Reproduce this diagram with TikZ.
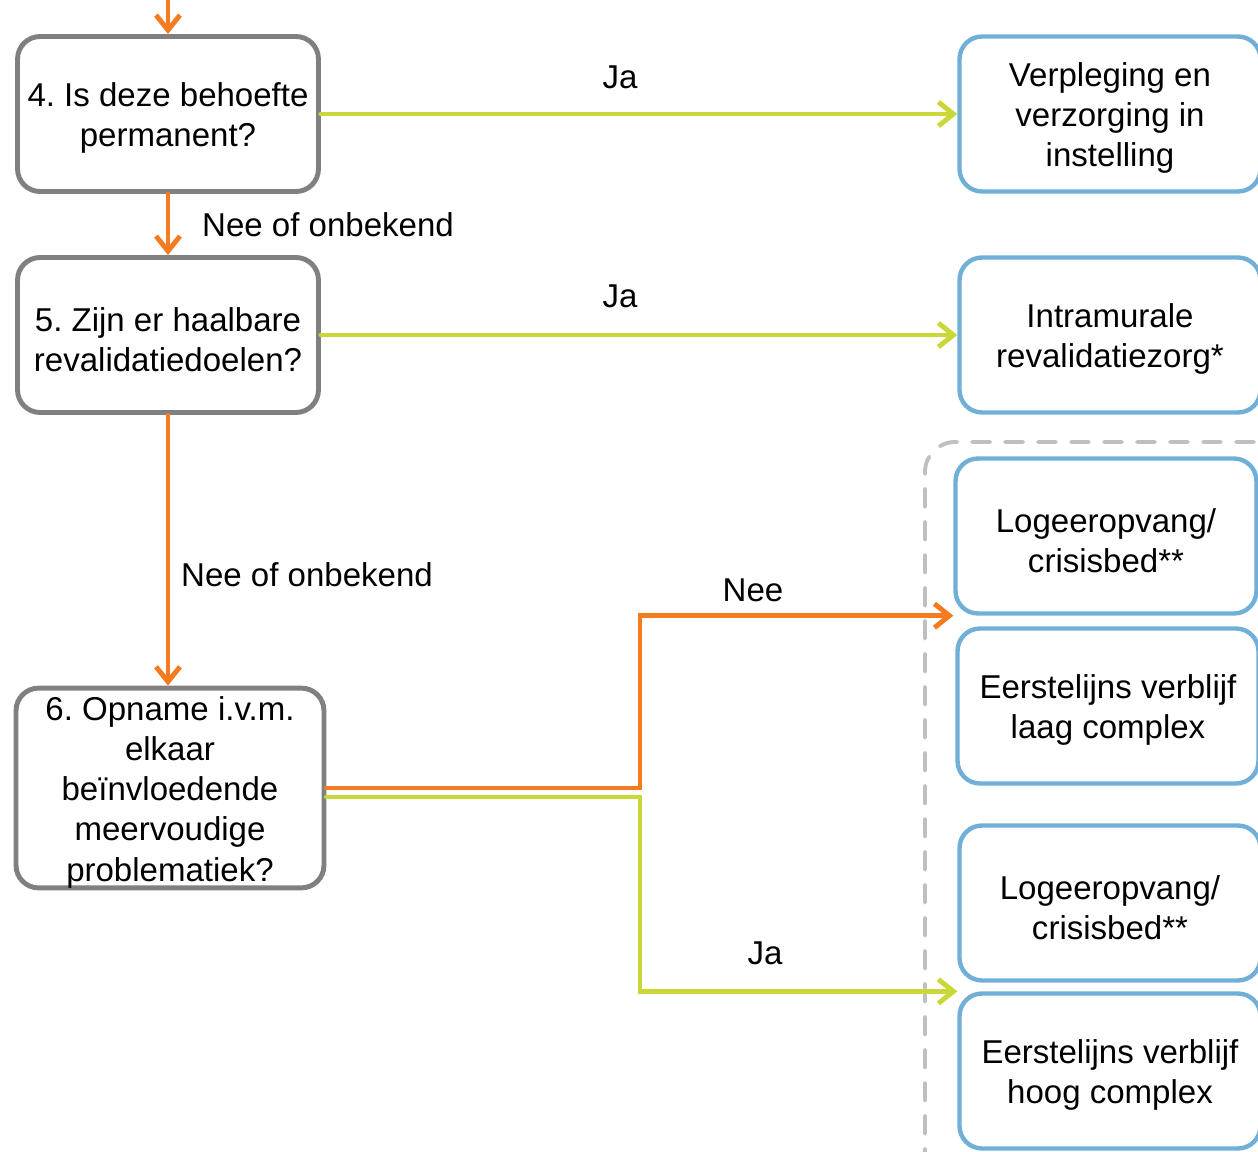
\documentclass[tikz,border=0pt]{standalone}
\usepackage{fontspec}
\setmainfont{Liberation Sans}
\usepackage{xcolor}
\usetikzlibrary{calc,arrows.meta}
\definecolor{oranje}{HTML}{F47B20}
\definecolor{lime}{HTML}{C9D836}
\definecolor{lichtblauw}{HTML}{6FAFD8}
\definecolor{grijs}{HTML}{808080}
\definecolor{stippel}{HTML}{BFBFBF}
\frenchspacing
\newcommand{\bovenruimte}{\rule{0pt}{18.6pt}}
\begin{document}
\begin{tikzpicture}[x=0.02cm,y=-0.02cm,line cap=round,
  font=\fontsize{18.8}{22.8}\selectfont,
  vraag/.style={draw=grijs,line width=2.8pt,rounded corners=0.45cm,fill=white,
    align=center,minimum width=6.02cm,minimum height=3.1cm,inner sep=0pt},
  uitkomst/.style={vraag,draw=lichtblauw,line width=2.5pt},
  nee/.style={draw=oranje,line width=2.8pt,-{Straight Barb[length=0.3cm,width=0.48cm]}},
  ja/.style={nee,draw=lime}]
\useasboundingbox (0,0) rectangle (1258,1152);
% dashed group
\draw[stippel,line width=2.2pt,dash pattern=on 0.36cm off 0.3cm,rounded corners=0.6cm]
  (1320,442) -- (925,442) -- (925,1175);
% questions
\node[vraag] (q4) at (168,114) {\bovenruimte 4. Is deze behoefte\\permanent?};
\node[vraag] (q5) at (168,335) {\bovenruimte 5. Zijn er haalbare\\revalidatiedoelen?};
\node[vraag,minimum width=6.16cm,minimum height=3.94cm] (q6) at (170,788)
  {\bovenruimte 6. Opname i.v.m.\\elkaar\\beïnvloedende\\meervoudige\\problematiek?};
% outcomes
\node[uitkomst] (r1) at (1110,114) {\bovenruimte Verpleging en\\verzorging in\\instelling};
\node[uitkomst] (r2) at (1110,335) {\bovenruimte Intramurale\\revalidatiezorg*};
\node[uitkomst] (r3) at (1106,536) {\bovenruimte Logeeropvang/\\crisisbed**};
\node[uitkomst] (r4) at (1108,706) {\bovenruimte Eerstelijns verblijf\\laag complex};
\node[uitkomst] (r5) at (1110,903) {\bovenruimte Logeeropvang/\\crisisbed**};
\node[uitkomst] (r6) at (1110,1071) {\bovenruimte Eerstelijns verblijf\\hoog complex};
% connectors
\coordinate (in) at (168,-2);
\draw[nee] (in) -- (q4.north);
\draw[nee] (q4.south) -- (q5.north);
\draw[nee] (q5.south) -- (q5.south |- q6.north);
\draw[ja] (q4.east) -- (q4.east -| r1.west);
\draw[ja] (q5.east) -- (q5.east -| r2.west);
\coordinate (knik) at (640,0);
\draw[nee] (q6.east) -- (q6.east -| knik) |- (r3.south west);
\draw[ja] ($(q6.east)+(0,9)$) -- ($(q6.east -| knik)+(0,9)$) |- (r6.north west);
% labels
\node at (620,77) {Ja};
\node at (620,296) {Ja};
\node[anchor=west] at (196,225) {Nee of onbekend};
\node[anchor=west] at (175,575) {Nee of onbekend};
\node at (753,590) {Nee};
\node at (765,953) {Ja};
\end{tikzpicture}
\end{document}
